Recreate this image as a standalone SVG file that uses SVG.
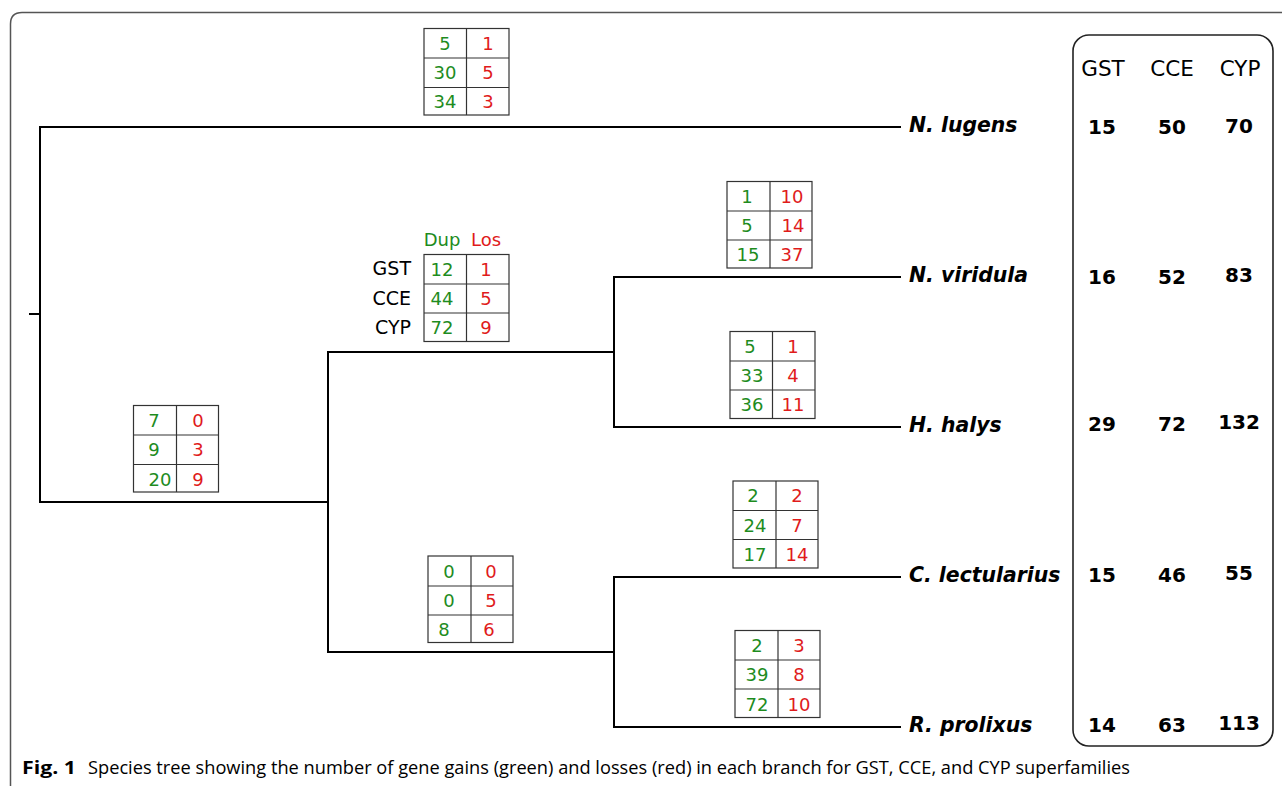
<svg xmlns="http://www.w3.org/2000/svg" width="1282" height="786" viewBox="0 0 1282 786">
<style>
.tree{stroke:#000;stroke-width:2;fill:none;stroke-linecap:square}
.tb rect,.tb line{stroke:#333;stroke-width:1.2;fill:#fff}
.g{fill:#1e8c1e;font-family:"DejaVu Sans",Verdana,sans-serif;font-size:18px;text-anchor:middle}
.r{fill:#e01b1b;font-family:"DejaVu Sans",Verdana,sans-serif;font-size:18px;text-anchor:middle}
.lab{fill:#000;font-family:"DejaVu Sans",Verdana,sans-serif;font-size:19px;text-anchor:end}
.sp{fill:#000;font-family:"DejaVu Sans",Verdana,sans-serif;font-size:20.4px;font-weight:bold;font-style:italic}
.hd{fill:#000;font-family:"DejaVu Sans",Verdana,sans-serif;font-size:21.5px;text-anchor:middle}
.num{fill:#000;font-family:"DejaVu Sans",Verdana,sans-serif;font-size:20px;font-weight:bold;text-anchor:middle}
.cap{fill:#000;font-family:"Open Sans","Noto Sans",sans-serif;font-size:18px}
</style>
<rect width="1282" height="786" fill="#fff"/>
<path d="M10.5,800 V24 Q10.5,12.5 22,12.5 H1300" fill="none" stroke="#555" stroke-width="1.5"/>
<g id="connectors" class="tree">
<path d="M30,314 H40"/>
<path d="M40,127 V502"/>
<path d="M40,127 H900"/>
<path d="M40,502 H328"/>
<path d="M328,352 V652"/>
<path d="M328,352 H614"/>
<path d="M328,652 H614"/>
<path d="M614,277 V427"/>
<path d="M614,277 H900"/>
<path d="M614,427 H900"/>
<path d="M614,577 V727"/>
<path d="M614,577 H900"/>
<path d="M614,727 H900"/>
</g>
<g id="t-nlugens" class="tb">
<rect x="424" y="28.5" width="85" height="86.5"/>
<line x1="466.5" y1="28.5" x2="466.5" y2="115"/>
<line x1="424" y1="58" x2="509" y2="58"/>
<line x1="424" y1="87.5" x2="509" y2="87.5"/>
<text class="g" x="445" y="50">5</text><text class="r" x="488" y="50">1</text>
<text class="g" x="445" y="79">30</text><text class="r" x="488" y="79">5</text>
<text class="g" x="445" y="108">34</text><text class="r" x="488" y="108">3</text>
</g>
<g id="t-root" class="tb">
<rect x="133.5" y="405.5" width="85" height="86.5"/>
<line x1="176.5" y1="405.5" x2="176.5" y2="492"/>
<line x1="133.5" y1="435" x2="218.5" y2="435"/>
<line x1="133.5" y1="464.5" x2="218.5" y2="464.5"/>
<text class="g" x="154" y="427">7</text><text class="r" x="198" y="427">0</text>
<text class="g" x="154" y="456">9</text><text class="r" x="198" y="456">3</text>
<text class="g" x="160" y="486">20</text><text class="r" x="198" y="486">9</text>
</g>
<g id="t-pent" class="tb">
<rect x="424" y="254.5" width="85" height="87"/>
<line x1="466.5" y1="254.5" x2="466.5" y2="341.5"/>
<line x1="424" y1="284" x2="509" y2="284"/>
<line x1="424" y1="313" x2="509" y2="313"/>
<text class="g" x="442" y="276">12</text><text class="r" x="486" y="276">1</text>
<text class="g" x="442" y="305">44</text><text class="r" x="486" y="305">5</text>
<text class="g" x="442" y="334">72</text><text class="r" x="486" y="334">9</text>
<text class="g" x="442" y="246">Dup</text><text class="r" x="486" y="246">Los</text>
<text class="lab" x="411" y="275">GST</text>
<text class="lab" x="411" y="305">CCE</text>
<text class="lab" x="411" y="334">CYP</text>
</g>
<g id="t-nviridula" class="tb">
<rect x="727" y="181.5" width="85" height="86.5"/>
<line x1="770" y1="181.5" x2="770" y2="268"/>
<line x1="727" y1="211" x2="812" y2="211"/>
<line x1="727" y1="240" x2="812" y2="240"/>
<text class="g" x="747" y="203">1</text><text class="r" x="792" y="203">10</text>
<text class="g" x="747" y="232">5</text><text class="r" x="793" y="232">14</text>
<text class="g" x="748" y="261">15</text><text class="r" x="792" y="261">37</text>
</g>
<g id="t-hhalys" class="tb">
<rect x="730" y="331.5" width="85" height="87"/>
<line x1="772.5" y1="331.5" x2="772.5" y2="418.5"/>
<line x1="730" y1="361" x2="815" y2="361"/>
<line x1="730" y1="390" x2="815" y2="390"/>
<text class="g" x="750" y="353">5</text><text class="r" x="793" y="353">1</text>
<text class="g" x="752" y="382">33</text><text class="r" x="793" y="382">4</text>
<text class="g" x="752" y="411">36</text><text class="r" x="793" y="411">11</text>
</g>
<g id="t-het" class="tb">
<rect x="428" y="556" width="85" height="86.5"/>
<line x1="471" y1="556" x2="471" y2="642.5"/>
<line x1="428" y1="586" x2="513" y2="586"/>
<line x1="428" y1="615" x2="513" y2="615"/>
<text class="g" x="449" y="578">0</text><text class="r" x="491" y="578">0</text>
<text class="g" x="449" y="607">0</text><text class="r" x="491" y="607">5</text>
<text class="g" x="444" y="636">8</text><text class="r" x="489" y="636">6</text>
</g>
<g id="t-clect" class="tb">
<rect x="733" y="481" width="85" height="87"/>
<line x1="776" y1="481" x2="776" y2="568"/>
<line x1="733" y1="510.5" x2="818" y2="510.5"/>
<line x1="733" y1="539.5" x2="818" y2="539.5"/>
<text class="g" x="753" y="502">2</text><text class="r" x="797" y="502">2</text>
<text class="g" x="755" y="532">24</text><text class="r" x="797" y="532">7</text>
<text class="g" x="755" y="561">17</text><text class="r" x="797" y="561">14</text>
</g>
<g id="t-rprol" class="tb">
<rect x="735" y="630.5" width="85" height="87"/>
<line x1="778" y1="630.5" x2="778" y2="717.5"/>
<line x1="735" y1="660" x2="820" y2="660"/>
<line x1="735" y1="689" x2="820" y2="689"/>
<text class="g" x="757" y="652">2</text><text class="r" x="799" y="652">3</text>
<text class="g" x="757" y="681">39</text><text class="r" x="799" y="681">8</text>
<text class="g" x="757" y="711">72</text><text class="r" x="799" y="711">10</text>
</g>
<g id="species">
<text class="sp" x="909" y="132">N. lugens</text>
<text class="sp" x="909" y="282">N. viridula</text>
<text class="sp" x="909" y="432">H. halys</text>
<text class="sp" x="909" y="582">C. lectularius</text>
<text class="sp" x="909" y="732">R. prolixus</text>
</g>
<g id="counts">
<rect x="1073" y="35" width="200" height="711" rx="16" ry="16" fill="none" stroke="#222" stroke-width="1.6"/>
<text class="hd" x="1103" y="76">GST</text>
<text class="hd" x="1172" y="76">CCE</text>
<text class="hd" x="1240" y="76">CYP</text>
<text class="num" x="1102" y="134">15</text><text class="num" x="1172" y="134">50</text><text class="num" x="1239" y="133">70</text>
<text class="num" x="1102" y="284">16</text><text class="num" x="1172" y="284">52</text><text class="num" x="1239" y="282">83</text>
<text class="num" x="1102" y="431">29</text><text class="num" x="1172" y="431">72</text><text class="num" x="1239" y="429">132</text>
<text class="num" x="1102" y="582">15</text><text class="num" x="1172" y="582">46</text><text class="num" x="1239" y="580">55</text>
<text class="num" x="1102" y="732">14</text><text class="num" x="1172" y="732">63</text><text class="num" x="1239" y="730">113</text>
</g>
<text class="cap" x="22" y="774" font-weight="bold" textLength="54" lengthAdjust="spacingAndGlyphs">Fig. 1</text>
<text class="cap" x="88" y="774" textLength="1042" lengthAdjust="spacingAndGlyphs">Species tree showing the number of gene gains (green) and losses (red) in each branch for GST, CCE, and CYP superfamilies</text>
</svg>
